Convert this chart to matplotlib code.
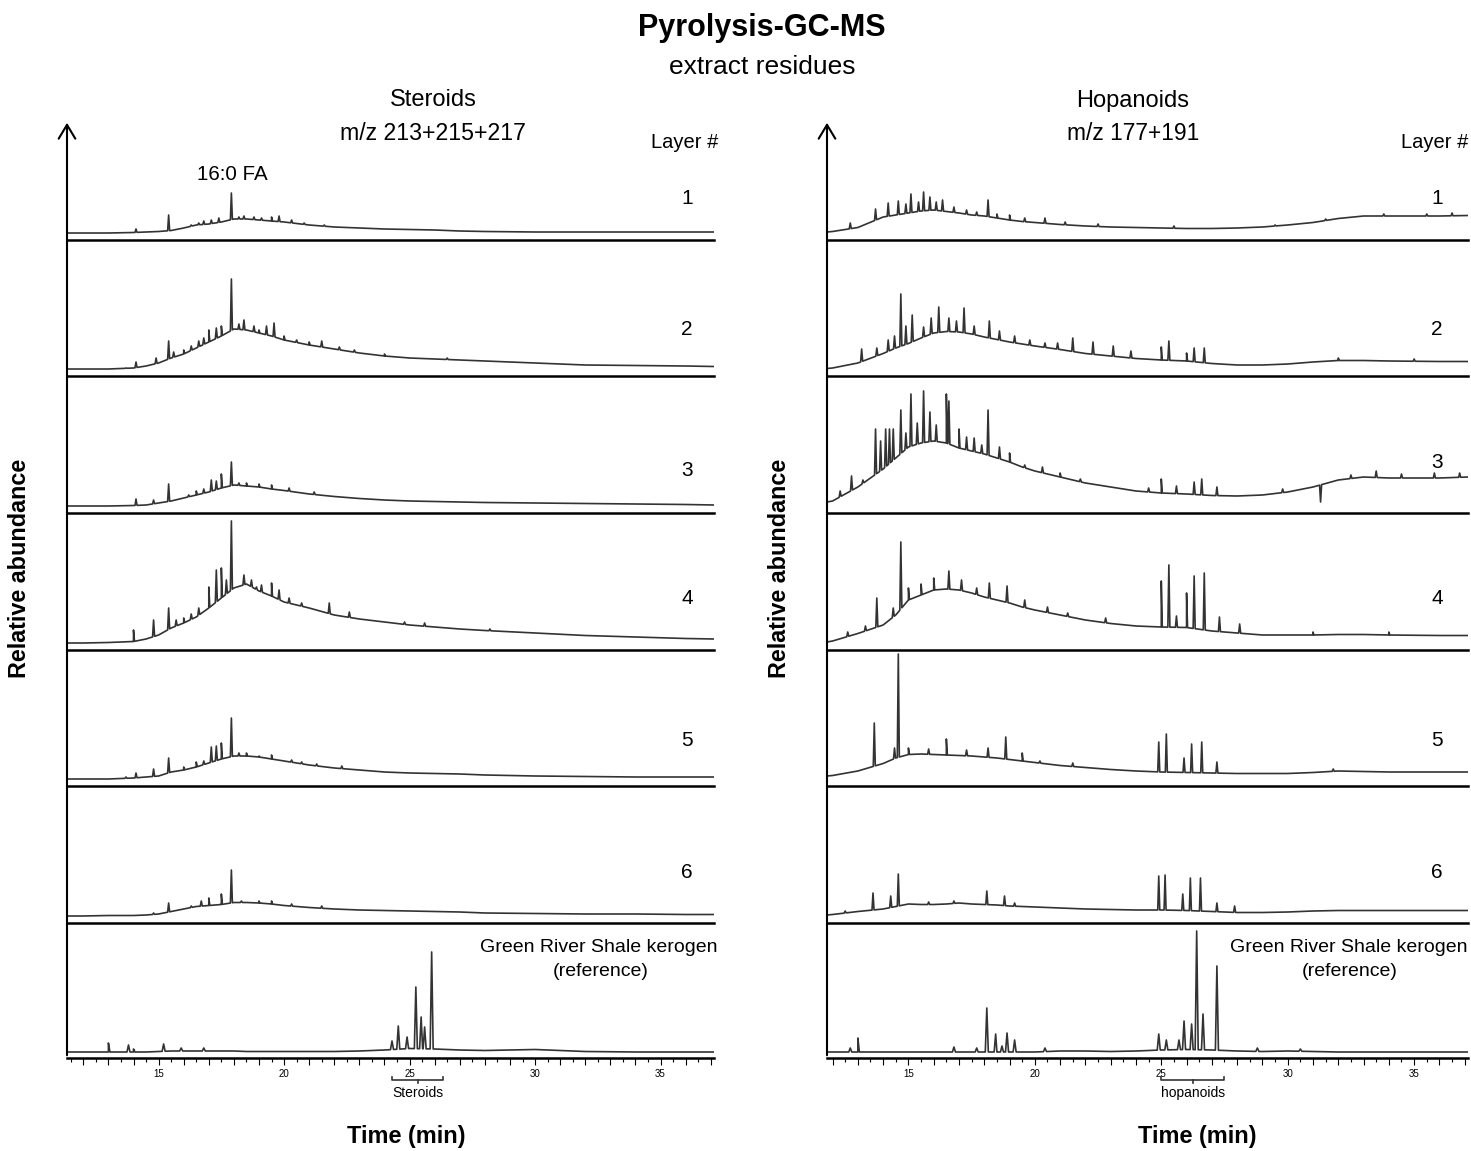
import numpy as np
import matplotlib
matplotlib.use('Agg')
from matplotlib import pyplot as plt
from matplotlib.patches import FancyArrowPatch
from matplotlib.ticker import MultipleLocator, FuncFormatter

plt.rcParams['font.family'] = ['Liberation Sans', 'DejaVu Sans']

# ---- data: retention time (min) grid + smooth hump, then spikes (time, height) ----
# heights are in "panel units" (0 = panel base line, ~136 = panel top)
grid_L = [11.35, 12, 13, 14, 14.5, 15, 15.5, 16, 16.5, 17, 17.5, 18, 18.5, 19, 19.5,
          20, 21, 22, 23, 24, 25, 26, 27, 28, 30, 32, 34, 36, 37.13]

ster_1 = [7, 7, 7, 7.5, 8, 8.5, 9.5, 12, 15, 16, 18, 21, 21, 20, 19,
          18, 15, 13, 12, 11, 10.5, 10, 9, 8.5, 8, 8, 8, 8, 8]
ster_2 = [7, 7, 7, 8, 10, 13, 18, 22, 28, 34, 40, 47, 46, 43, 40,
          36, 31, 27, 23, 20, 18, 17, 16, 15, 13, 11, 10.5, 10, 9.5]
ster_3 = [7, 7, 7, 7.5, 8, 10, 12, 15, 18, 21, 25, 28, 27, 26, 24,
          22.5, 19, 16.5, 14.5, 13, 12, 11.5, 11, 10.5, 10, 9.5, 9, 8.5, 8]
ster_4 = [7, 7, 7.5, 8.5, 11, 15, 22, 27, 33, 42, 52, 62, 66, 59, 54,
          48, 42, 35, 31, 28, 25, 23, 21, 19.5, 17, 14.5, 13, 11.5, 11]
ster_5 = [7, 7, 7, 8, 9, 10, 14, 16, 19, 23, 27, 30, 30, 29, 27,
          25, 21, 18, 16, 14, 13, 12.5, 12, 11, 10, 9.5, 9, 9, 9]
ster_6 = [7, 7, 7.5, 7.5, 8, 9, 11.5, 14, 16.5, 17.5, 18.5, 20.5, 20.5, 20, 19,
          17.5, 15.5, 14, 13, 12.5, 12, 11.5, 11, 10, 9.5, 9, 9, 8.5, 8.5]
ster_ref = [6, 6, 6, 6, 6, 6.5, 7, 7, 7, 7, 7, 7, 6.5, 6.5, 6.5,
            6.5, 6.5, 6.5, 7, 8, 9.5, 9, 8, 7.5, 8.5, 6.5, 6, 6, 6]

ster_1_pk = [(14.1, 11), (15.4, 25), (16.3, 15), (16.6, 17), (16.8, 19), (17.1, 20),
             (17.4, 22), (17.9, 47), (18.2, 23), (18.4, 24), (18.8, 23), (19.1, 22),
             (19.5, 23), (19.8, 24), (20.3, 20), (20.8, 17), (21.6, 15)]
ster_2_pk = [(13.7, 8), (14.1, 14), (14.9, 18), (15.4, 35), (15.6, 24), (16.0, 26),
             (16.3, 30), (16.6, 35), (16.8, 38), (17.0, 46), (17.3, 48), (17.5, 50),
             (17.9, 97), (18.2, 52), (18.4, 56), (18.8, 50), (19.0, 46), (19.3, 50),
             (19.6, 53), (20.0, 40), (20.5, 36), (21.0, 34), (21.5, 35), (22.2, 29),
             (22.8, 26), (24.0, 22), (26.5, 18)]
ster_3_pk = [(14.1, 14), (14.8, 13), (15.4, 29), (16.2, 18), (16.5, 22), (16.8, 24),
             (17.1, 33), (17.3, 32), (17.5, 39), (17.9, 51), (18.2, 30), (18.5, 30),
             (19.0, 29), (19.5, 28), (20.2, 25), (21.2, 21)]
ster_4_pk = [(14.0, 20), (14.8, 30), (15.4, 42), (15.7, 30), (16.0, 32), (16.3, 36),
             (16.6, 42), (17.0, 63), (17.3, 80), (17.5, 82), (17.7, 70), (17.9, 129),
             (18.4, 75), (18.7, 70), (18.9, 63), (19.1, 65), (19.5, 67), (19.8, 60),
             (20.2, 52), (20.7, 47), (21.8, 47), (22.6, 38), (24.8, 28), (25.6, 27),
             (28.2, 21)]
ster_5_pk = [(13.7, 9), (14.1, 13), (14.8, 17), (15.4, 28), (16.0, 19), (16.5, 24),
             (16.8, 25), (17.1, 39), (17.3, 40), (17.5, 43), (17.9, 68), (18.2, 33),
             (18.5, 33), (19.0, 30), (19.5, 31), (20.3, 26), (20.7, 24), (21.3, 22),
             (22.3, 20)]
ster_6_pk = [(14.8, 10), (15.4, 20), (16.3, 17), (16.7, 22), (17.0, 25), (17.5, 29),
             (17.9, 53), (18.3, 22), (19.0, 22), (19.5, 22), (20.3, 19), (21.5, 17)]
ster_ref_pk = [(13.0, 15), (13.8, 13), (14.0, 9), (15.2, 14), (15.9, 10), (16.8, 10),
               (24.3, 17), (24.55, 32), (24.9, 21), (25.25, 71), (25.46, 41),
               (25.6, 31), (25.88, 106)]

grid_R = [11.78, 12, 13, 14, 14.5, 15, 15.5, 16, 16.5, 17, 17.5, 18, 18.5, 19, 19.5,
          20, 21, 22, 23, 24, 25, 26, 27, 28, 29, 30, 31, 32, 33, 34, 36, 37.13]

hop_1 = [8, 8.5, 12.5, 23, 25, 27, 29, 30, 28.5, 27, 25, 24, 22, 20, 18.5,
         17.5, 15.5, 14, 13, 12.5, 12, 11.5, 11.5, 12, 13, 15, 17.5, 21.5, 24, 24, 24, 24.5]
hop_2 = [7.5, 8, 13, 22.5, 28, 32.5, 38, 43, 44.5, 44, 42, 39, 36.5, 34, 32,
         30, 26.5, 22.5, 20, 17.5, 16, 15, 12.5, 11, 11, 12, 14, 15.5, 15.5, 15, 14.5, 14.5]
hop_3 = [11, 12, 26, 44, 55, 66, 70, 72, 70, 65, 62, 59, 55, 51, 46,
         42, 36, 30, 26, 22, 20, 19, 17.5, 17, 18, 21, 26, 33, 36, 35, 35, 36]
hop_4 = [8, 9, 16.5, 25, 35, 50, 55, 60, 61, 60, 57, 53, 50, 47, 43,
         40, 35, 30, 26.5, 24, 23, 22.5, 19, 17, 15, 15, 15, 15.5, 15.5, 15, 14.5, 14.5]
hop_5 = [10, 10.5, 15, 22.5, 28, 31.5, 32, 31.5, 31, 30.5, 30, 29, 28, 26.5, 25,
         23.5, 20.5, 18.5, 16.5, 15, 14, 13.5, 13, 12.5, 12.5, 12.5, 13.5, 15, 14.5, 14, 14, 14]
hop_6 = [8, 8.5, 11.5, 14, 16.5, 19, 18.5, 18.5, 19, 20, 19, 18.5, 18, 17, 16.5,
         16, 15, 14, 13.5, 13, 13, 12.5, 11.5, 10.5, 10.5, 11, 12, 12.5, 12.5, 12.5, 12.5, 12.5]
hop_ref = [6, 6, 6, 6, 6, 6, 6, 6, 6, 6, 6, 6, 6, 6, 6,
           6, 7, 7, 6.5, 7, 8, 8.5, 8, 7, 6.5, 7, 6.5, 6, 6, 6, 6, 6]

hop_1_pk = [(12.7, 17), (13.7, 31), (14.2, 37), (14.6, 39), (14.9, 36), (15.1, 46),
            (15.4, 38), (15.6, 48), (15.85, 43), (16.1, 38), (16.35, 40), (16.8, 33),
            (17.3, 30), (17.7, 28), (18.15, 40), (18.5, 26), (19.0, 25), (19.6, 22),
            (20.4, 22), (21.2, 18), (22.5, 16), (25.5, 14), (29.5, 15), (31.5, 21),
            (33.8, 26), (35.5, 26), (36.5, 27)]
hop_2_pk = [(13.15, 27), (13.75, 28), (14.2, 36), (14.45, 40), (14.7, 82), (14.9, 50),
            (15.15, 61), (15.6, 49), (15.9, 58), (16.2, 69), (16.6, 58), (16.9, 55),
            (17.2, 68), (17.6, 50), (18.2, 55), (18.6, 45), (19.2, 40), (19.8, 36),
            (20.4, 33), (20.9, 33), (21.5, 38), (22.3, 34), (23.1, 30), (23.8, 25),
            (25.0, 29), (25.3, 35), (26.0, 23), (26.3, 28), (26.7, 28), (32.0, 18),
            (35.0, 17)]
hop_3_pk = [(12.3, 22), (12.75, 37), (13.2, 33), (13.7, 84), (13.9, 72), (14.1, 84),
            (14.25, 84), (14.4, 84), (14.7, 103), (14.9, 80), (15.1, 119), (15.35, 90),
            (15.6, 122), (15.85, 101), (16.1, 88), (16.5, 119), (16.6, 112), (17.0, 84),
            (17.3, 76), (17.6, 75), (17.9, 68), (18.15, 103), (18.6, 66), (19.0, 60),
            (19.6, 48), (20.3, 46), (21.0, 40), (21.8, 34), (24.5, 25), (25.0, 34),
            (25.6, 27), (26.3, 31), (26.6, 34), (27.2, 26), (29.8, 24), (31.3, 11),
            (32.5, 38), (33.5, 42), (34.5, 39), (35.8, 40), (36.8, 40)]
hop_4_pk = [(12.6, 18), (13.3, 24), (13.75, 52), (14.4, 42), (14.7, 108), (15.0, 62),
            (15.5, 66), (16.0, 72), (16.6, 79), (17.1, 70), (17.7, 62), (18.2, 67),
            (18.9, 64), (19.6, 50), (20.5, 43), (21.3, 37), (22.8, 32), (25.0, 69),
            (25.3, 85), (25.6, 34), (26.0, 57), (26.3, 74), (26.7, 77), (27.3, 33),
            (28.1, 26), (31.0, 18), (34.0, 18)]
hop_5_pk = [(13.65, 63), (14.45, 38), (14.6, 132), (15.0, 38), (15.8, 37), (16.5, 47),
            (17.3, 36), (18.15, 38), (18.85, 49), (19.5, 33), (20.2, 25), (21.5, 23),
            (24.9, 44), (25.2, 52), (25.9, 28), (26.2, 42), (26.6, 44), (27.2, 24),
            (31.8, 17)]
hop_6_pk = [(12.5, 12), (13.6, 30), (14.3, 27), (14.6, 49), (15.8, 21), (16.8, 22),
            (18.1, 32), (18.8, 27), (19.2, 20), (24.9, 47), (25.15, 48), (25.85, 29),
            (26.15, 45), (26.55, 45), (27.2, 20), (27.9, 17)]
hop_ref_pk = [(12.7, 10), (13.0, 20), (16.8, 11), (17.7, 10), (18.1, 50), (18.45, 24),
              (18.7, 12), (18.9, 25), (19.2, 18), (20.4, 10), (24.9, 24), (25.2, 18),
              (25.7, 18), (25.9, 37), (26.2, 34), (26.4, 127), (26.65, 44), (27.2, 92),
              (28.8, 10), (30.5, 9)]

layers = ['1', '2', '3', '4', '5', '6']
steroid_range = (24.3, 26.35)
hopanoid_range = (25.0, 27.5)

# ---- layout (pixels of the 1471x1151 image) ----
W, H = 1471, 1151
bottoms = [240, 376, 513, 650, 786, 923, 1058]
tops = [104] + bottoms[:-1]


def fx(px):
    return px / W


def fy(py):
    return 1 - py / H


def draw_trace(ax, grid, env, peaks, width=0.04):
    t = list(grid)
    y = list(env)
    for pt, top in peaks:
        t += [pt - width, pt, pt + width]
        y += [np.interp(pt - width, grid, env), top, np.interp(pt + width, grid, env)]
    order = np.argsort(t, kind='stable')
    ax.plot(np.array(t)[order], np.array(y)[order], color='#333333', lw=1.2)


fig = plt.figure(figsize=(W / 100, H / 100), dpi=100)

sides = [
    dict(x0=67, x1=714, xlim=(11.35, 37.13), grid=grid_L,
         traces=[ster_1, ster_2, ster_3, ster_4, ster_5, ster_6, ster_ref],
         peaks=[ster_1_pk, ster_2_pk, ster_3_pk, ster_4_pk, ster_5_pk, ster_6_pk, ster_ref_pk],
         bracket=steroid_range, bracket_label='Steroids', right_x=718, time_x=406,
         num_x=687, num_y=[198, 330, 470, 599, 740, 872], ref_x=601),
    dict(x0=827, x1=1468, xlim=(11.78, 37.13), grid=grid_R,
         traces=[hop_1, hop_2, hop_3, hop_4, hop_5, hop_6, hop_ref],
         peaks=[hop_1_pk, hop_2_pk, hop_3_pk, hop_4_pk, hop_5_pk, hop_6_pk, hop_ref_pk],
         bracket=hopanoid_range, bracket_label='hopanoids', right_x=1468, time_x=1197,
         num_x=1437, num_y=[198, 330, 462, 599, 740, 872], ref_x=1350),
]

for side in sides:
    for i in range(7):
        h = bottoms[i] - tops[i]
        ax = fig.add_axes([fx(side['x0']), fy(bottoms[i]),
                           fx(side['x1'] - side['x0']), h / H])
        ax.set_xlim(*side['xlim'])
        ax.set_ylim(0, h)
        ax.patch.set_visible(False)
        for s in ['top', 'right', 'left']:
            ax.spines[s].set_visible(False)
        ax.spines['bottom'].set_linewidth(1.8)
        ax.set_yticks([])
        width = 0.06 if i == 6 else 0.04
        draw_trace(ax, side['grid'], side['traces'][i], side['peaks'][i], width)
        if i < 6:
            ax.set_xticks([])
        else:
            ax.xaxis.set_major_locator(MultipleLocator(1))
            ax.xaxis.set_minor_locator(MultipleLocator(0.5))
            ax.xaxis.set_major_formatter(FuncFormatter(
                lambda v, p: '%d' % v if round(v) % 5 == 0 else ''))
            ax.tick_params(axis='x', which='major', length=5, width=0.8, labelsize=7, pad=3)
            ax.tick_params(axis='x', which='minor', length=3, width=0.8)
            b0, b1 = side['bracket']
            mid = (b0 + b1) / 2
            ax.plot([b0, b0, b1, b1], [-19, -22, -22, -19], color='#333333', lw=1.2, clip_on=False)
            ax.plot([mid, mid], [-22, -25], color='#333333', lw=1.2, clip_on=False)
            ax.text(mid, -35, side['bracket_label'], ha='center', va='center', fontsize=10)

    # vertical axis with open arrow head
    fig.add_artist(FancyArrowPatch((fx(side['x0']), fy(bottoms[-1])), (fx(side['x0']), fy(120)),
                                   transform=fig.transFigure,
                                   arrowstyle='->,head_length=0.5,head_width=0.3',
                                   mutation_scale=20, lw=1.5, color='black'))

    for lab, yy in zip(layers, side['num_y']):
        fig.text(fx(side['num_x']), fy(yy), lab, ha='center', va='center', fontsize=15)
    fig.text(fx(side['right_x']), fy(143), 'Layer #', ha='right', va='center', fontsize=14.5)
    fig.text(fx(side['right_x']), fy(947), 'Green River Shale kerogen', ha='right', va='center', fontsize=14)
    fig.text(fx(side['ref_x']), fy(971), '(reference)', ha='center', va='center', fontsize=14)
    fig.text(fx(side['x0'] - 47), fy(568), 'Relative abundance', rotation=90,
             ha='center', va='center', fontsize=16.8, fontweight='bold')
    fig.text(fx(side['time_x']), fy(1137), 'Time (min)',
             ha='center', va='center', fontsize=16.9, fontweight='bold')

fig.text(fx(762), fy(28), 'Pyrolysis-GC-MS', ha='center', va='center', fontsize=22, fontweight='bold')
fig.text(fx(762), fy(67), 'extract residues', ha='center', va='center', fontsize=19)
fig.text(fx(433), fy(100), 'Steroids', ha='center', va='center', fontsize=17)
fig.text(fx(433), fy(134), 'm/z 213+215+217', ha='center', va='center', fontsize=16.7)
fig.text(fx(1133), fy(101), 'Hopanoids', ha='center', va='center', fontsize=17)
fig.text(fx(1133), fy(133), 'm/z 177+191', ha='center', va='center', fontsize=16.4)
fig.text(fx(232), fy(175), '16:0 FA', ha='center', va='center', fontsize=14.8)

fig.savefig('out.png', dpi=100)
